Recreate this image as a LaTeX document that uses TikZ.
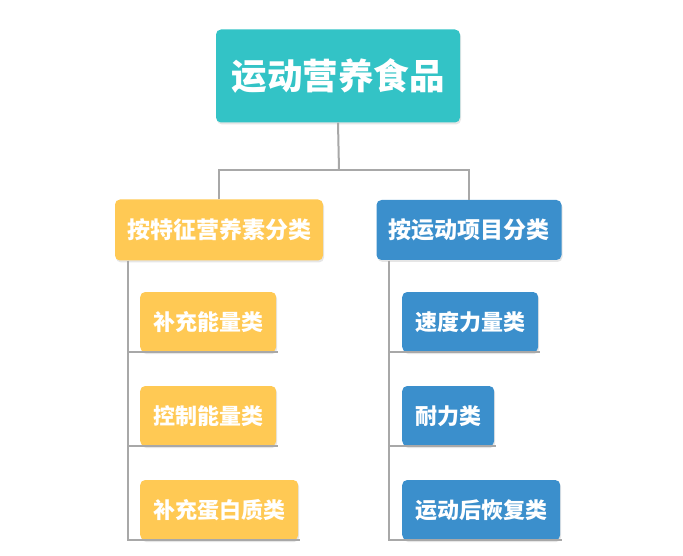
\documentclass[tikz,border=0pt]{standalone}
\usepackage{fontspec}
\newfontfamily\cjk{Noto Sans CJK SC}[UprightFont=* Black]
\usepackage{tikz}
\usetikzlibrary{shadows}
\definecolor{teal1}{HTML}{33C3C6}
\definecolor{yellow1}{HTML}{FFC954}
\definecolor{blue1}{HTML}{3B8FCC}
\definecolor{line1}{HTML}{A8A8A8}

\begin{document}
\begin{tikzpicture}[x=1pt, y=-1pt,
        box/.style={rounded corners=5pt, text=white, inner sep=0pt, font=\cjk,
            drop shadow={opacity=0.2, shadow xshift=1pt, shadow yshift=-2pt}},
        leaf/.style={box, anchor=west, minimum height=60pt, inner xsep=13pt, font=\cjk\fontsize{22}{26}\selectfont},
        link/.style={draw=line1, line width=2pt}]
        \useasboundingbox (0,0) rectangle (683,556);
        \draw (338, 76) node(0)[box, fill=teal1, minimum width=244pt, minimum height=93pt, font=\cjk\fontsize{35.5}{42}\selectfont]{运动营养食品};
        \draw (219, 230) node(1)[box, fill=yellow1, minimum width=208pt, minimum height=61pt, font=\cjk\fontsize{23}{27}\selectfont]{按特征营养素分类};
        \draw (469, 230) node(2)[box, fill=blue1, minimum width=185pt, minimum height=60pt, font=\cjk\fontsize{23}{27}\selectfont]{按运动项目分类};
        \coordinate (f) at (339, 170);
        \draw[link] (0.south) -- (f);
        \draw[link] (1.north) |- (f) -| (2.north);
        \draw (140, 322) node(3)[leaf, fill=yellow1]{补充能量类};
        \draw (140, 416) node(4)[leaf, fill=yellow1]{控制能量类};
        \draw (140, 510) node(5)[leaf, fill=yellow1]{补充蛋白质类};
        \coordinate (a) at (128, 261);
        \draw[link] (a) |- ([xshift=2pt]3.south east);
        \draw[link] (a) |- ([xshift=2pt]4.south east);
        \draw[link] (a) |- ([xshift=2pt]5.south east);
        \draw (402, 322) node(6)[leaf, fill=blue1]{速度力量类};
        \draw (402, 416) node(7)[leaf, fill=blue1]{耐力类};
        \draw (402, 510) node(8)[leaf, fill=blue1]{运动后恢复类};
        \coordinate (b) at (389, 261);
        \draw[link] (b) |- ([xshift=2pt]6.south east);
        \draw[link] (b) |- ([xshift=2pt]7.south east);
        \draw[link] (b) |- ([xshift=2pt]8.south east);
    \end{tikzpicture}
\end{document}
